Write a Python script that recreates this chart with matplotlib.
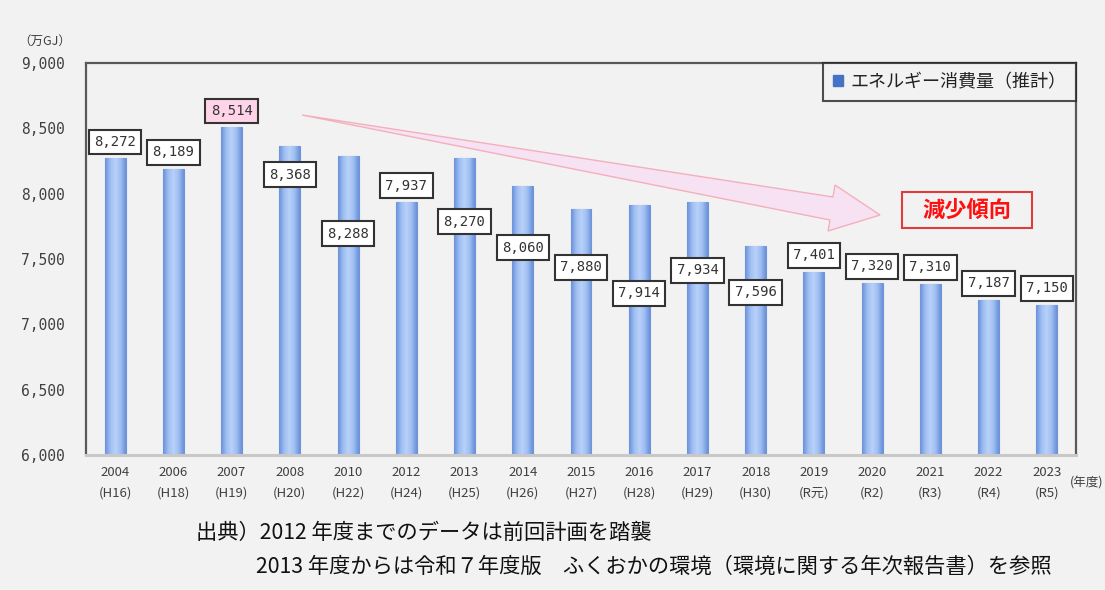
import numpy as np
import matplotlib
matplotlib.use("Agg")
import matplotlib.pyplot as plt
from matplotlib.colors import LinearSegmentedColormap
from matplotlib.patches import Polygon, Rectangle, Patch
from matplotlib.ticker import FuncFormatter

plt.rcParams['font.family'] = ['Noto Sans CJK JP', 'DejaVu Sans']

# Data: estimated energy consumption (10,000 GJ)
years = ["2004", "2006", "2007", "2008", "2010", "2012", "2013", "2014", "2015",
         "2016", "2017", "2018", "2019", "2020", "2021", "2022", "2023"]
eras = ["(H16)", "(H18)", "(H19)", "(H20)", "(H22)", "(H24)", "(H25)", "(H26)", "(H27)",
        "(H28)", "(H29)", "(H30)", "(R元)", "(R2)", "(R3)", "(R4)", "(R5)"]
energy = [8272, 8189, 8514, 8368, 8288, 7937, 8270, 8060, 7880,
          7914, 7934, 7596, 7401, 7320, 7310, 7187, 7150]

# Vertical placement of each value box (in axis units)
label_pos = [8397, 8317, 8634, 8145, 7695, 8061, 7786, 7588, 7435,
             7237, 7412, 7244, 7527, 7443, 7435, 7313, 7275]

BG = "#F2F2F2"
W, H = 1105, 590

fig = plt.figure(figsize=(W / 100, H / 100), dpi=100, facecolor=BG)
ax = fig.add_axes([86 / W, 1 - 455 / H, (1076 - 86) / W, (455 - 63) / H])
ax.set_facecolor(BG)

x = np.arange(len(years))
bars = ax.bar(x, [v - 6000 for v in energy], bottom=6000, width=0.36,
              color="#A9C6F5", edgecolor="#6E93D8", linewidth=0.8, zorder=2)

# Horizontal shading inside each bar
grad_cmap = LinearSegmentedColormap.from_list(
    "barshade", ["#6A91DA", "#9FBFF2", "#B8D1FA", "#9FBFF2", "#6A91DA"])
grad = np.linspace(0, 1, 64).reshape(1, -1)
for b in bars:
    x0, y0 = b.get_x(), b.get_y()
    im = ax.imshow(grad, cmap=grad_cmap, aspect="auto",
                   extent=[x0, x0 + b.get_width(), y0, y0 + b.get_height()],
                   zorder=2.5, interpolation="bicubic")
    im.set_clip_path(b)

ax.set_xlim(-0.5, len(years) - 0.5)
ax.set_ylim(6000, 9000)
ax.set_yticks(np.arange(6000, 9001, 500))
ax.yaxis.set_major_formatter(FuncFormatter(lambda v, p: f"{int(v):,}"))
for t in ax.get_yticklabels():
    t.set_fontfamily("DejaVu Sans Mono")
    t.set_fontsize(10.5)
    t.set_color("#404040")
ax.tick_params(axis="y", length=0, pad=15)

ax.set_xticks(x)
ax.set_xticklabels([f"{y}\n{e}" for y, e in zip(years, eras)],
                   fontsize=9.5, color="#404040", linespacing=1.75)
ax.tick_params(axis="x", length=0, pad=8)

for side in ["left", "top", "right"]:
    ax.spines[side].set_color("#595959")
    ax.spines[side].set_linewidth(1.6)
ax.spines["bottom"].set_color("#C8C8C8")
ax.spines["bottom"].set_linewidth(2.2)

# Value boxes
for i, v in enumerate(energy):
    face = "#FFD3E8" if v == max(energy) else "white"
    ax.text(x[i], label_pos[i], f"{v:,}", ha="center", va="center",
            fontfamily="DejaVu Sans Mono", fontsize=10, color="#333333", zorder=5,
            bbox=dict(boxstyle="square,pad=0.38", fc=face, ec="#333333", lw=1.5))

# Legend
leg = ax.legend(handles=[Patch(facecolor="#4472C4", edgecolor="#4472C4")],
                labels=["エネルギー消費量（推計）"], loc="upper right",
                bbox_to_anchor=(1.0, 1.0), borderaxespad=0, fancybox=False,
                frameon=True, fontsize=13, handlelength=0.55, handleheight=0.55,
                handletextpad=0.4, borderpad=0.55)
leg.get_frame().set_edgecolor("#222222")
leg.get_frame().set_linewidth(1.5)
leg.get_frame().set_facecolor(BG)
for t in leg.get_texts():
    t.set_color("#222222")

# Downward trend arrow
def fpt(px, py):
    return (px / W, 1 - py / H)

arrow_pts = [fpt(302, 115), fpt(833, 197), fpt(835, 185), fpt(880, 215),
             fpt(828, 231), fpt(830, 220)]
fig.patches.append(Polygon(arrow_pts, closed=True, transform=fig.transFigure,
                           facecolor="#F6E2F3", edgecolor="#F5AFBC", lw=1.0, zorder=3))

# Trend label
fig.patches.append(Rectangle(fpt(902, 228), 130 / W, 36 / H, transform=fig.transFigure,
                             facecolor=BG, edgecolor="#E03C3C", lw=1.5, zorder=3))
fig.text(967 / W, 1 - 210 / H, "減少傾向", ha="center", va="center",
         fontsize=16, fontweight="bold", color="#FF1010", zorder=4)

# Axis unit labels
fig.text(45 / W, 1 - 41 / H, "（万GJ）", ha="center", va="center",
         fontsize=9, color="#404040")
fig.text(1103 / W, 1 - 483 / H, "(年度)", ha="right", va="center",
         fontsize=9, color="#404040")

# Source notes
fig.text(196 / W, 1 - 533 / H, "出典）2012 年度までのデータは前回計画を踏襲",
         ha="left", va="center", fontsize=15.3, color="#111111")
fig.text(256 / W, 1 - 567 / H,
         "2013 年度からは令和７年度版　ふくおかの環境（環境に関する年次報告書）を参照",
         ha="left", va="center", fontsize=15.3, color="#111111")

fig.savefig("out.png", dpi=100, facecolor=BG)
